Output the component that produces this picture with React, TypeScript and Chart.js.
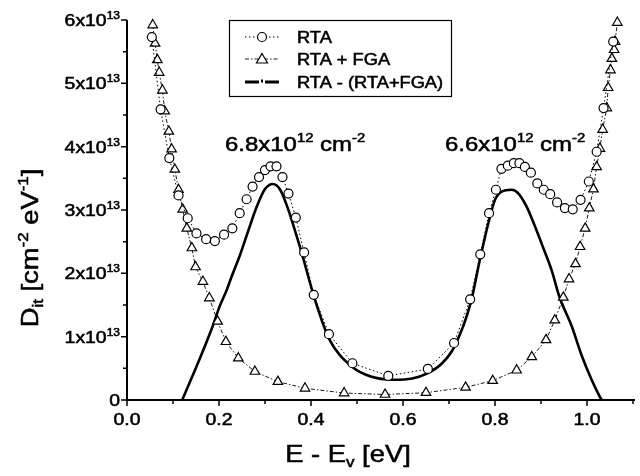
import React, { useEffect, useRef } from "react";
import { Chart, registerables } from "chart.js";

Chart.register(...registerables);

// ---- data (E in eV, Dit in units of 1e13 cm^-2 eV^-1) ----
const rtaE = [0.054, 0.073, 0.092, 0.112, 0.132, 0.151, 0.172, 0.191, 0.211, 0.229, 0.245, 0.26, 0.273, 0.287, 0.3, 0.312, 0.325, 0.338, 0.351, 0.367, 0.385, 0.406, 0.439, 0.49, 0.568, 0.654, 0.711, 0.746, 0.768, 0.787, 0.802, 0.814, 0.828, 0.841, 0.853, 0.865, 0.878, 0.892, 0.906, 0.92, 0.935, 0.952, 0.969, 0.986, 1.004, 1.021, 1.036, 1.057];
const rtaD = [5.73, 4.59, 3.82, 3.23, 2.87, 2.63, 2.54, 2.51, 2.61, 2.71, 2.95, 3.17, 3.37, 3.52, 3.63, 3.69, 3.69, 3.52, 3.26, 2.88, 2.33, 1.66, 1.04, 0.58, 0.38, 0.49, 0.9, 1.59, 2.3, 2.95, 3.32, 3.65, 3.7, 3.74, 3.74, 3.68, 3.59, 3.42, 3.32, 3.25, 3.12, 3.03, 3.01, 3.16, 3.45, 3.92, 4.61, 5.66];

const fgaE = [0.056, 0.061, 0.066, 0.07, 0.077, 0.082, 0.091, 0.097, 0.104, 0.112, 0.121, 0.13, 0.141, 0.149, 0.165, 0.179, 0.197, 0.215, 0.242, 0.278, 0.328, 0.387, 0.472, 0.561, 0.65, 0.736, 0.795, 0.847, 0.88, 0.911, 0.93, 0.9485, 0.961, 0.975, 0.985, 0.996, 1.005, 1.014, 1.021, 1.028, 1.034, 1.043, 1.046, 1.051, 1.054, 1.059, 1.061, 1.066];
const fgaD = [5.92, 5.63, 5.37, 5.17, 4.89, 4.56, 4.24, 3.96, 3.64, 3.32, 3.01, 2.71, 2.4, 2.1, 1.87, 1.61, 1.24, 0.92, 0.66, 0.45, 0.29, 0.185, 0.11, 0.087, 0.115, 0.2, 0.305, 0.47, 0.68, 0.95, 1.26, 1.62, 1.91, 2.15, 2.42, 2.71, 3.03, 3.33, 3.68, 3.97, 4.27, 4.61, 4.93, 5.21, 5.39, 5.53, 5.66, 5.96];

const diffE = [0.12, 0.157, 0.186, 0.201, 0.217, 0.2275, 0.2457, 0.264, 0.282, 0.3, 0.317, 0.333, 0.3485, 0.365, 0.38, 0.394, 0.41, 0.439, 0.49, 0.53, 0.579, 0.62, 0.653, 0.685, 0.7115, 0.747, 0.767, 0.7855, 0.8, 0.8145, 0.836, 0.851, 0.869, 0.887, 0.905, 0.923, 0.94, 0.967, 0.988, 1.01, 1.028, 1.032];
const diffD = [0, 0.63, 1.16, 1.47, 1.74, 1.95, 2.29, 2.68, 3.05, 3.33, 3.41, 3.32, 3.05, 2.68, 2.32, 1.95, 1.55, 0.97, 0.52, 0.37, 0.32, 0.34, 0.42, 0.58, 0.84, 1.53, 2.21, 2.79, 3.16, 3.29, 3.32, 3.26, 3.05, 2.74, 2.4, 2.05, 1.63, 1.16, 0.71, 0.32, 0.05, 0];

const seriesNames = ["RTA", "RTA + FGA", "RTA - (RTA+FGA)"];
const xTicks = [0, 0.2, 0.4, 0.6, 0.8, 1.0];
const xTickLabels = ["0.0", "0.2", "0.4", "0.6", "0.8", "1.0"];
const xMinor = [0.1, 0.3, 0.5, 0.7, 0.9, 1.1];
const yTicks = [0, 1, 2, 3, 4, 5, 6];
const yMinor = [0.5, 1.5, 2.5, 3.5, 4.5, 5.5];
const yExponent = "13";
const peakLabels = [
  { x: 225, mant: "6.8x10", exp: "12" },
  { x: 445, mant: "6.6x10", exp: "12" },
];

const FONT = '"Liberation Sans", Arial, sans-serif';
const SX = 1.14;

type Seg = { t: string; sup?: boolean; sub?: boolean };

function segFont(size: number, s: Seg) {
  const sz = s.sup || s.sub ? size * 0.62 : size;
  return `${sz}px ${FONT}`;
}
function richWidth(ctx: CanvasRenderingContext2D, segs: Seg[], size: number) {
  let w = 0;
  for (const s of segs) {
    ctx.font = segFont(size, s);
    w += ctx.measureText(s.t).width;
  }
  return w;
}
function drawRich(ctx: CanvasRenderingContext2D, segs: Seg[], x: number, y: number, size: number, align: "left" | "center" | "right") {
  const w = richWidth(ctx, segs, size) * SX;
  let x0 = x;
  if (align === "center") x0 = x - w / 2;
  if (align === "right") x0 = x - w;
  ctx.save();
  ctx.translate(x0, y);
  ctx.scale(SX, 1);
  ctx.textBaseline = "alphabetic";
  ctx.textAlign = "left";
  ctx.fillStyle = "#000";
  ctx.strokeStyle = "#000";
  ctx.lineWidth = 0.55;
  ctx.setLineDash([]);
  let cx = 0;
  for (const s of segs) {
    ctx.font = segFont(size, s);
    const dy = s.sup ? -size * 0.42 : s.sub ? size * 0.22 : 0;
    ctx.fillText(s.t, cx, dy);
    ctx.strokeText(s.t, cx, dy);
    cx += ctx.measureText(s.t).width;
  }
  ctx.restore();
}

const decorPlugin = {
  id: "decor",
  afterDraw(chart: any) {
    const ctx: CanvasRenderingContext2D = chart.ctx;
    const xs = chart.scales.x;
    const ys = chart.scales.y;
    const left = xs.getPixelForValue(0);
    const right = xs.getPixelForValue(1.1);
    const bottom = ys.getPixelForValue(0);
    const top = ys.getPixelForValue(6);
    ctx.save();
    ctx.strokeStyle = "#000";
    ctx.lineWidth = 2;
    ctx.beginPath();
    ctx.moveTo(left, top);
    ctx.lineTo(left, bottom);
    ctx.lineTo(right + 2, bottom);
    ctx.stroke();
    ctx.lineWidth = 1.5;
    ctx.beginPath();
    for (const v of xTicks) {
      const p = xs.getPixelForValue(v);
      ctx.moveTo(p, bottom);
      ctx.lineTo(p, bottom + 6);
    }
    for (const v of xMinor) {
      const p = xs.getPixelForValue(v);
      ctx.moveTo(p, bottom);
      ctx.lineTo(p, bottom + 4);
    }
    for (const v of yTicks) {
      const p = ys.getPixelForValue(v);
      ctx.moveTo(left, p);
      ctx.lineTo(left - 6, p);
    }
    for (const v of yMinor) {
      const p = ys.getPixelForValue(v);
      ctx.moveTo(left, p);
      ctx.lineTo(left - 4, p);
    }
    ctx.stroke();

    // tick labels
    xTicks.forEach((v, i) => {
      drawRich(ctx, [{ t: xTickLabels[i] }], xs.getPixelForValue(v), bottom + 25, 17, "center");
    });
    yTicks.forEach((v) => {
      const segs: Seg[] = v === 0 ? [{ t: "0" }] : [{ t: `${v}x10` }, { t: yExponent, sup: true }];
      drawRich(ctx, segs, left - 7, ys.getPixelForValue(v) + 6, 17, "right");
    });

    // axis titles
    drawRich(ctx, [{ t: "E - E" }, { t: "v", sub: true }, { t: " [eV]" }], 348, 462, 24, "center");
    ctx.save();
    ctx.translate(38, 248);
    ctx.rotate(-Math.PI / 2);
    drawRich(
      ctx,
      [{ t: "D" }, { t: "it", sub: true }, { t: " [cm" }, { t: "-2", sup: true }, { t: " eV" }, { t: "-1", sup: true }, { t: "]" }],
      0,
      0,
      24,
      "center"
    );
    ctx.restore();

    // peak annotations
    for (const p of peakLabels) {
      drawRich(ctx, [{ t: p.mant }, { t: p.exp, sup: true }, { t: " cm" }, { t: "-2", sup: true }], p.x, 151, 21, "left");
    }

    // legend
    ctx.lineWidth = 1.2;
    ctx.strokeStyle = "#000";
    ctx.strokeRect(229.5, 20.5, 222, 76);
    const rows = [37, 59, 82];
    const sx0 = 245, sx1 = 279, mx = 262;
    // row 1
    ctx.lineWidth = 1;
    ctx.setLineDash([1.5, 2.5]);
    ctx.beginPath();
    ctx.moveTo(sx0, rows[0]);
    ctx.lineTo(sx1, rows[0]);
    ctx.stroke();
    ctx.setLineDash([]);
    ctx.fillStyle = "#fff";
    ctx.beginPath();
    ctx.arc(mx, rows[0], 4.5, 0, Math.PI * 2);
    ctx.fill();
    ctx.lineWidth = 1.2;
    ctx.stroke();
    // row 2
    ctx.lineWidth = 0.9;
    ctx.setLineDash([4, 2, 1.5, 2]);
    ctx.beginPath();
    ctx.moveTo(sx0, rows[1]);
    ctx.lineTo(sx1, rows[1]);
    ctx.stroke();
    ctx.setLineDash([]);
    ctx.beginPath();
    ctx.moveTo(mx, rows[1] - 5.5);
    ctx.lineTo(mx + 5.5, rows[1] + 4);
    ctx.lineTo(mx - 5.5, rows[1] + 4);
    ctx.closePath();
    ctx.fill();
    ctx.lineWidth = 1.2;
    ctx.stroke();
    // row 3
    ctx.lineWidth = 3;
    ctx.beginPath();
    ctx.moveTo(sx0, rows[2]);
    ctx.lineTo(mx - 3, rows[2]);
    ctx.moveTo(mx + 3, rows[2]);
    ctx.lineTo(sx1, rows[2]);
    ctx.stroke();
    ctx.fillStyle = "#000";
    ctx.fillRect(mx - 1, rows[2] - 2.5, 2, 3);
    seriesNames.forEach((n, i) => {
      drawRich(ctx, [{ t: n }], 297, rows[i] + 6, 16, "left");
    });
    ctx.restore();
  },
};

export default function App() {
  const ref = useRef<HTMLCanvasElement | null>(null);
  useEffect(() => {
    if (!ref.current) return;
    const chart = new Chart(ref.current, {
      type: "scatter",
      data: {
        datasets: [
          {
            label: seriesNames[0],
            data: rtaE.map((x, i) => ({ x, y: rtaD[i] })),
            showLine: true,
            borderColor: "#000",
            borderWidth: 1,
            borderDash: [1.5, 2.5],
            pointStyle: "circle",
            pointRadius: 4.5,
            pointBorderWidth: 1.2,
            pointBackgroundColor: "#fff",
            pointBorderColor: "#000",
            clip: false,
          } as any,
          {
            label: seriesNames[1],
            data: fgaE.map((x, i) => ({ x, y: fgaD[i] })),
            showLine: true,
            borderColor: "#000",
            borderWidth: 0.9,
            borderDash: [4, 2, 1.5, 2],
            pointStyle: "triangle",
            pointRadius: 5.5,
            pointBorderWidth: 1.2,
            pointBackgroundColor: "#fff",
            pointBorderColor: "#000",
            clip: false,
          } as any,
          {
            label: seriesNames[2],
            data: diffE.map((x, i) => ({ x, y: diffD[i] })),
            showLine: true,
            borderColor: "#000",
            borderWidth: 2.6,
            pointRadius: 0,
            cubicInterpolationMode: "monotone",
            clip: false,
          } as any,
        ],
      },
      options: {
        animation: false,
        responsive: false,
        maintainAspectRatio: false,
        layout: { padding: { left: 127, right: 7, top: 20, bottom: 76 } },
        plugins: { legend: { display: false }, tooltip: { enabled: false } },
        scales: {
          x: { type: "linear", min: 0, max: 1.1, display: false },
          y: { type: "linear", min: 0, max: 6, display: false },
        },
      },
      plugins: [decorPlugin],
    });
    return () => chart.destroy();
  }, []);
  return (
    <div style={{ position: "fixed", left: 0, top: 0, width: 640, height: 476, background: "#fff" }}>
      <canvas ref={ref} width={640} height={476} style={{ width: 640, height: 476, display: "block" }} />
    </div>
  );
}
